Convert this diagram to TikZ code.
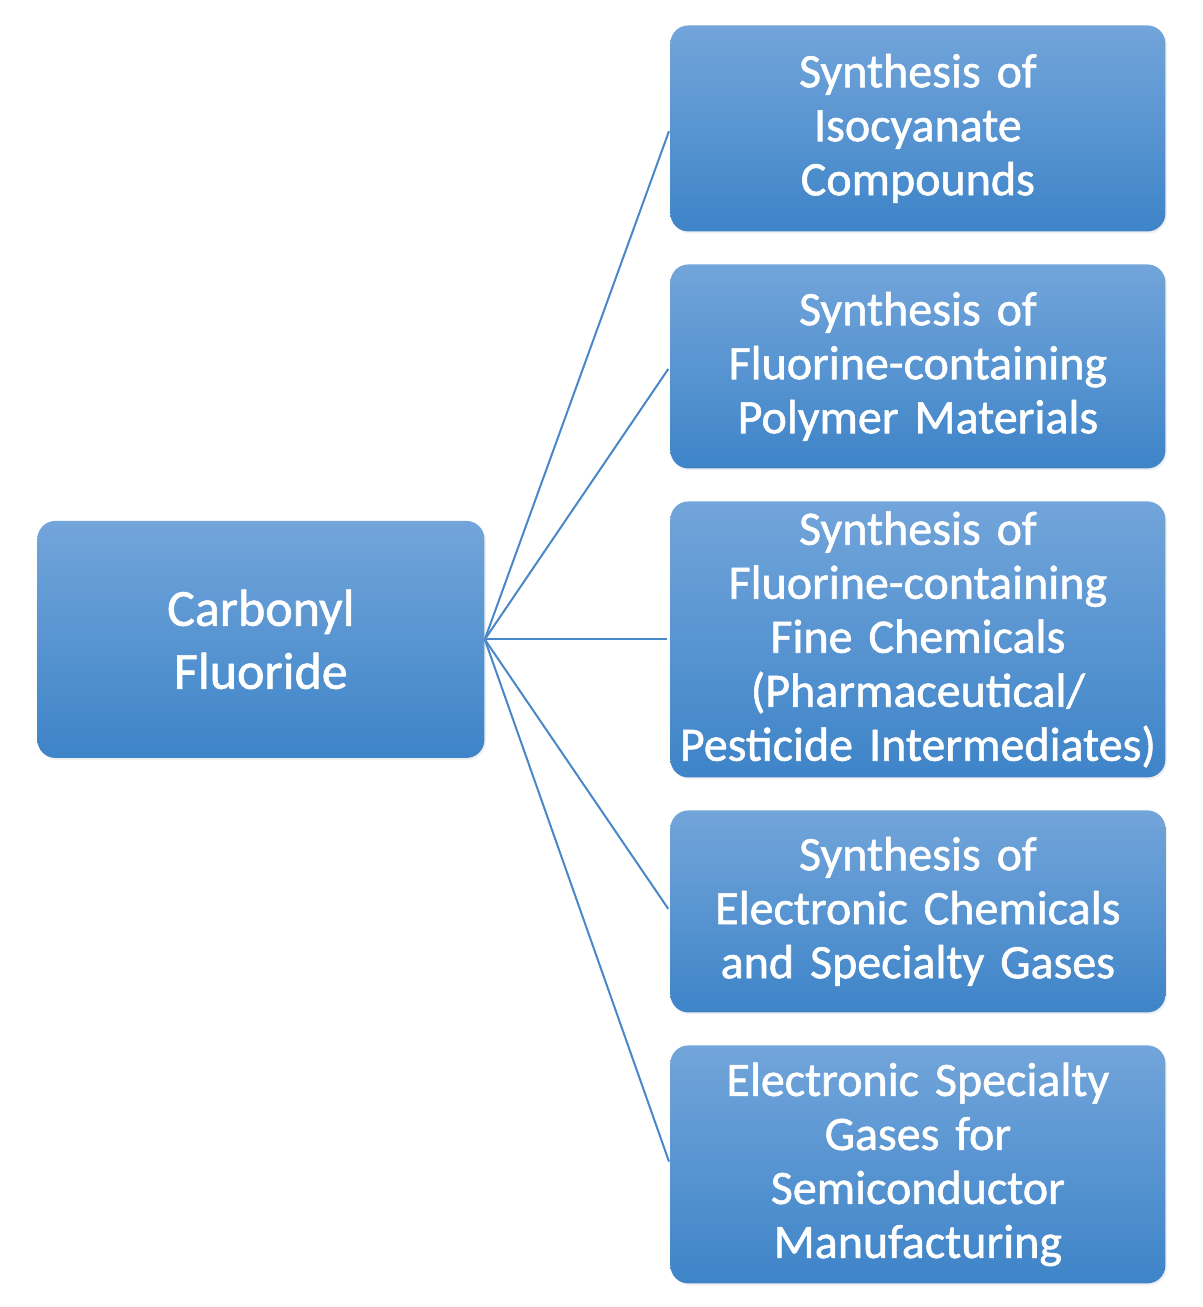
\documentclass[tikz,border=0pt]{standalone}
\usepackage{fontspec}
\setmainfont{Carlito}
\newfontfamily\boxfont{Carlito}[FakeBold=1.2, WordSpace=0.8]
\usetikzlibrary{matrix, shadows, positioning}
\definecolor{boxtop}{HTML}{72A5DA}
\definecolor{boxbottom}{HTML}{3E84C8}
\definecolor{linkblue}{HTML}{4A87C8}
\tikzset{
  % connector style
  link/.style={
    draw=linkblue
    , line width=1pt
    , shorten >=1.5pt
  },
}
\tikzset{
  % shared box look
  card/.style={
    top color=boxtop
    , bottom color=boxbottom
    , draw=none
    , text=white
    , anchor=center
    , align=center
    , inner sep=0pt
    , rounded corners=9pt
    , drop shadow={opacity=0.12, shadow xshift=0.8pt, shadow yshift=-1pt}
    %, minimum width={10em},
  },
  % left box
  rootbox/.style={
    card
    , text width=223.5pt
    , minimum height=118.5pt
    , font=\boxfont\fontsize{26}{31.5}\selectfont
  },
  % right boxes
  leafbox/.style={
    card
    , text width=247.5pt
    , font=\boxfont\fontsize{24}{27}\selectfont
  },
}

\begin{document}
\begin{tikzpicture}
  \useasboundingbox (0,0) rectangle (601.5pt,-653.5pt);
  \matrix (tree) [matrix of nodes
                 , column sep=93pt
                 , row sep=16.5pt
                 , inner sep=0pt
                 , anchor=north west
                 , ampersand replacement=\&
                ] at (18.5pt,-12.5pt)
  {
    {}
    \& |[leafbox, minimum height=103pt]| {Synthesis of\\Isocyanate\\Compounds} %1-2
    \\
    {}
    \& |[leafbox, minimum height=102pt]| {Synthesis of\\Fluorine-containing\\Polymer Materials} %2-2
    \\
    |[rootbox]| {Carbonyl\\Fluoride} %3-1
    \& |[leafbox, minimum height=138pt]| {Synthesis of\\Fluorine-containing\\Fine Chemicals\\(Pharmaceutical/\\Pesticide Intermediates)} %3-2
    \\
    {}
    \& |[leafbox, minimum height=101pt]| {Synthesis of\\Electronic Chemicals\\and Specialty Gases} %4-2
    \\
    {}
    \& |[leafbox, minimum height=119pt]| {Electronic Specialty\\Gases for\\Semiconductor\\Manufacturing} %5-2
    \\
  }; % matrix
  \foreach \row in {1,...,5}
    \draw[link] (tree-3-1.east) -- (tree-\row-2.west);
\end{tikzpicture}
\end{document}
